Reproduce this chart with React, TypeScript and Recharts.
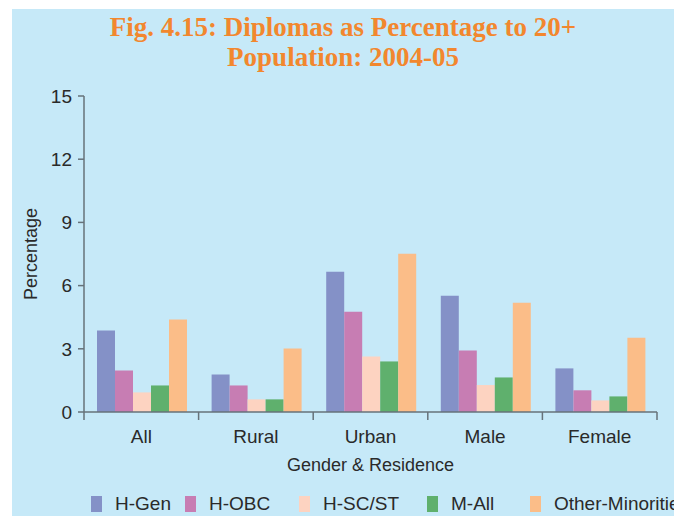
import { BarChart, Bar, XAxis, YAxis } from 'recharts';

const categories = ['All', 'Rural', 'Urban', 'Male', 'Female'];
const hGen = [3.87, 1.78, 6.66, 5.52, 2.07];
const hObc = [1.97, 1.26, 4.76, 2.92, 1.03];
const hScSt = [0.93, 0.6, 2.64, 1.28, 0.55];
const mAll = [1.26, 0.6, 2.4, 1.64, 0.74];
const otherMin = [4.39, 3.01, 7.51, 5.19, 3.53];
const seriesNames = ['H-Gen', 'H-OBC', 'H-SC/ST', 'M-All', 'Other-Minorities'];
const yTicks = [0, 3, 6, 9, 12, 15];

const colors = ['#8491c7', '#c77db3', '#fdd3c1', '#5fb06d', '#fbbd88'];
const keys = ['hGen', 'hObc', 'hScSt', 'mAll', 'other'];

const data = categories.map((c, i) => ({
  name: c,
  hGen: hGen[i],
  hObc: hObc[i],
  hScSt: hScSt[i],
  mAll: mAll[i],
  other: otherMin[i],
}));

const W = 662;
const H = 507;
const yAxisW = 72;
const marginRight = 17;
const bandW = (W - yAxisW - marginRight) / categories.length;
const axisColor = '#66727a';
const font = '"Liberation Sans", Arial, sans-serif';

// ticks sit on the category boundaries, labels in the middle
const CatTick = (props: any) => {
  const { x, y, payload, index } = props;
  const left = x - bandW / 2;
  return (
    <g>
      <line x1={left} y1={y - 8} x2={left} y2={y} stroke={axisColor} strokeWidth={1.5} />
      {index === categories.length - 1 && (
        <line x1={x + bandW / 2} y1={y - 8} x2={x + bandW / 2} y2={y} stroke={axisColor} strokeWidth={1.5} />
      )}
      <text x={x} y={y + 23} textAnchor="middle" fontSize={19} fill="#2a2a2a" fontFamily={font}>
        {payload.value}
      </text>
    </g>
  );
};

const legendLeft = [79, 173, 287, 415, 518];

export default function App() {
  return (
    <div style={{ position: 'absolute', left: 0, top: 0, width: 674, height: 516, background: '#fff', overflow: 'hidden' }}>
      <div style={{ position: 'absolute', left: 12, top: 9, width: W, height: H, background: '#c6e9f8' }}>
        <div
          style={{
            position: 'absolute',
            top: 3,
            left: 0,
            width: W,
            textAlign: 'center',
            fontFamily: '"Liberation Serif", "Times New Roman", serif',
            fontWeight: 'bold',
            fontSize: 27,
            lineHeight: '30px',
            color: '#f2872e',
          }}
        >
          Fig. 4.15: Diplomas as Percentage to 20+
          <br />
          Population: 2004-05
        </div>
        <BarChart
          width={W}
          height={H}
          data={data}
          margin={{ top: 87, right: marginRight, bottom: 42, left: 0 }}
          barCategoryGap={13}
          barGap={0}
        >
          <XAxis
            dataKey="name"
            height={62}
            tickLine={false}
            tickSize={8}
            tickMargin={0}
            interval={0}
            axisLine={{ stroke: axisColor, strokeWidth: 1.5 }}
            tick={<CatTick />}
            label={{ value: 'Gender & Residence', position: 'insideBottom', offset: 3, fontSize: 18, fill: '#2a2a2a', fontFamily: font }}
          />
          <YAxis
            width={yAxisW}
            domain={[0, 15]}
            ticks={yTicks}
            tickSize={6}
            tickMargin={6}
            axisLine={{ stroke: axisColor, strokeWidth: 1.5 }}
            tickLine={{ stroke: axisColor, strokeWidth: 1.5 }}
            tick={{ fontSize: 19, fill: '#2a2a2a', fontFamily: font }}
            label={{
              value: 'Percentage',
              angle: -90,
              position: 'insideLeft',
              offset: 19,
              fontSize: 18,
              fill: '#2a2a2a',
              fontFamily: font,
              style: { textAnchor: 'middle' },
            }}
          />
          {keys.map((k, i) => (
            <Bar key={k} dataKey={k} name={seriesNames[i]} fill={colors[i]} isAnimationActive={false} />
          ))}
        </BarChart>
        {seriesNames.map((s, i) => (
          <div key={s} style={{ position: 'absolute', left: legendLeft[i], top: 487, height: 16, whiteSpace: 'nowrap' }}>
            <span style={{ display: 'inline-block', width: 11, height: 16, background: colors[i], verticalAlign: 'top' }} />
            <span
              style={{
                position: 'absolute',
                left: 24,
                top: -3,
                fontSize: 19,
                lineHeight: '22px',
                fontFamily: font,
                color: '#2a2a2a',
              }}
            >
              {s}
            </span>
          </div>
        ))}
      </div>
    </div>
  );
}
